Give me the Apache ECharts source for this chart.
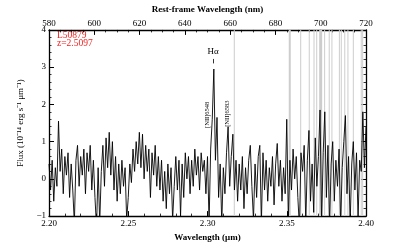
<!DOCTYPE html>
<html><head><meta charset="utf-8">
<script src="https://cdn.jsdelivr.net/npm/echarts@6/dist/echarts.min.js"></script>
<style>html,body{margin:0;padding:0;background:#fff}#c{width:407px;height:247px}</style>
</head><body><div id="c"></div>
<script>
const wlStart = 2.200, wlStep = 0.001;
const flux = [
0.4,-0.3,0.5,-0.6,0.3,-0.2,1.55,0.2,0.8,-0.4,
0.6,0.1,0.7,-0.5,0.4,-0.3,-1.2,0.5,0.9,-0.2,
0.6,0.1,0.8,-0.4,0.7,0.2,0.9,-0.3,0.5,-0.5,
-1.3,0.3,-1.2,0.2,0.9,-0.2,1.1,0.3,1.25,0.1,
1.0,-0.3,0.6,-0.6,0.4,-0.4,0.5,-0.2,0.3,-1.1,
-0.5,0.4,-0.1,0.8,0.2,1.0,0.4,1.25,0.3,1.2,
0.0,0.9,0.2,0.8,-0.5,0.7,0.1,0.9,-0.2,0.6,
-0.3,0.5,-0.6,0.2,-0.8,0.4,-0.4,0.3,-1.1,-0.2,
0.6,-0.3,0.5,-1.0,0.4,-0.5,0.7,0.0,0.6,-0.4,
0.5,-0.2,0.8,0.1,0.6,-0.3,0.7,0.2,0.5,-0.4,
0.6,-1.2,0.8,1.6,2.95,0.5,1.65,-0.5,0.4,-1.2,
0.3,-0.4,0.7,1.4,-0.2,0.6,1.2,-0.3,0.5,-0.6,
0.4,-0.3,0.6,-0.8,0.3,-0.4,0.5,0.9,-0.2,-1.1,
0.4,-0.5,0.6,0.9,-1.2,0.7,-0.3,0.5,-0.6,0.3,
-0.2,0.6,-0.7,0.4,0.95,-0.2,0.5,-0.6,0.3,-0.4,
1.6,-1.1,0.5,-0.3,0.8,0.0,0.6,-0.5,-1.3,0.7,
0.2,0.9,-1.2,0.5,1.3,-0.6,0.4,-0.9,1.1,-0.2,
0.6,1.85,-1.2,0.7,1.8,-0.5,0.9,-1.3,0.4,1.0,
-0.6,0.5,-0.2,0.8,-1.2,0.3,1.0,1.7,-0.4,0.6,
-1.2,0.4,1.0,-0.3,0.7,-1.1,0.5,0.2,1.8,0.3,
1.4
];
const skyLines = [2.3169,2.3519,2.3588,2.3642,2.3672,2.3689,2.3714,2.3739,2.3768,2.3785,2.3832,2.3844,2.3866,2.3886,2.3920,2.3970,2.3979];
const skyWidths = [1,2,1,1,1,1,3,1,1,1,1,1,1,1,1,1,1];
const restTicks = [580,720,20];
const obsTicks = [2.20,2.40,0.05];
const fluxTicks = [-1,4,1];
const lines = [
  {name:'Hα', wl:2.3035, y:3.42, rot:0},
  {name:'[NII]6548', wl:2.2996, y:1.72, rot:90},
  {name:'[NII]6583', wl:2.3122, y:1.75, rot:90}
];
const objName = 'L50879', redshift = 'z=2.5097';

const FONT = 'Liberation Serif';
const spec = flux.map((v,i)=>[+(wlStart+i*wlStep).toFixed(4), v]);
const chart = echarts.init(document.getElementById('c'), null, {renderer:'canvas'});
const axisCommon = {
  axisLine:{show:true, onZero:false, lineStyle:{color:'#000', width:1.3}},
  axisTick:{show:true, inside:true, length:5, lineStyle:{color:'#000', width:1}},
  minorTick:{show:true, length:2.5, lineStyle:{color:'#000', width:0.8}},
  splitLine:{show:false},
  axisLabel:{color:'#000', fontFamily:FONT, fontSize:9, margin:3},
  nameTextStyle:{color:'#000', fontFamily:FONT, fontSize:9, fontWeight:'bold'}
};
chart.setOption({
  animation:false,
  grid:{left:49, right:41, top:24, bottom:30},
  xAxis:[
    Object.assign({}, axisCommon, {type:'value', position:'bottom', min:obsTicks[0], max:obsTicks[1], interval:obsTicks[2],
      minorTick:Object.assign({}, axisCommon.minorTick, {splitNumber:5}),
      axisLabel:Object.assign({}, axisCommon.axisLabel, {formatter:v=>v.toFixed(2)}),
      name:'Wavelength (μm)', nameLocation:'middle', nameGap:13}),
    Object.assign({}, axisCommon, {type:'value', position:'top', min:restTicks[0], max:restTicks[1], interval:restTicks[2],
      minorTick:Object.assign({}, axisCommon.minorTick, {splitNumber:4}),
      axisLabel:Object.assign({}, axisCommon.axisLabel, {margin:2}),
      name:'Rest-frame Wavelength (nm)', nameLocation:'middle', nameGap:14})
  ],
  yAxis:[
    Object.assign({}, axisCommon, {type:'value', position:'left', min:fluxTicks[0], max:fluxTicks[1], interval:fluxTicks[2],
      minorTick:Object.assign({}, axisCommon.minorTick, {splitNumber:5}),
      axisLabel:Object.assign({}, axisCommon.axisLabel, {formatter:v=>String(v).replace('-','−')}),
      name:'Flux (10⁻¹⁴ erg s⁻¹ μm⁻¹)', nameLocation:'middle', nameGap:9,
      nameTextStyle:Object.assign({}, axisCommon.nameTextStyle, {fontWeight:'normal'})}),
    Object.assign({}, axisCommon, {type:'value', position:'right', min:fluxTicks[0], max:fluxTicks[1], interval:fluxTicks[2],
      minorTick:Object.assign({}, axisCommon.minorTick, {splitNumber:5}),
      axisLabel:{show:false}})
  ],
  series:[
    {type:'custom', xAxisIndex:0, yAxisIndex:0, z:1, silent:true,
     data: skyLines.map((v,i)=>[v, skyWidths[i]]),
     renderItem:(params, api)=>{
       const cs = params.coordSys;
       const x = api.coord([api.value(0), 0])[0];
       const w = api.value(1);
       return {type:'rect', shape:{x:x-w/2, y:cs.y, width:w, height:cs.height}, style:{fill:'#cdcdcd'}};
     }},
    {type:'line', xAxisIndex:0, yAxisIndex:0, data:spec, z:3, showSymbol:false, symbol:'none',
     lineStyle:{color:'#000', width:0.9}, clip:true,
     markPoint:{silent:true, symbol:'circle', symbolSize:0,
       data: lines.map(l=>({coord:[l.wl,l.y], label:{show:true, formatter:l.name, rotate:l.rot,
         color:'#000', fontFamily:FONT, fontSize:l.rot?6.5:9, position:'inside'}}))},
     markLine:{silent:true, symbol:'none', label:{show:false}, lineStyle:{color:'#000', width:0.8, type:'solid'},
       data:[[{coord:[lines[0].wl,3.1]},{coord:[lines[0].wl,3.22]}]]}}
  ],
  graphic:[
    {type:'text', left:57, top:30, style:{text:objName+'\n'+redshift, fill:'#f02020', font:'9.5px "Liberation Serif"', lineHeight:8.5}}
  ]
});
</script></body></html>
